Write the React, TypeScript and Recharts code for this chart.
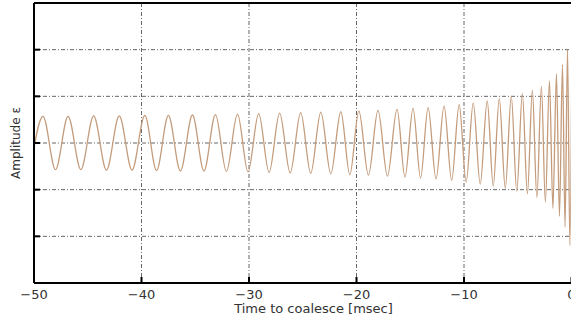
import { CartesianGrid, Line, LineChart, XAxis, YAxis } from "recharts";

// times (msec) of each crest / trough and its height
const peakTimes = [
  -49.16, -46.83, -44.45, -42.07, -39.69, -37.5, -35.26, -33.12, -31.07, -29.1, -27.15,
  -25.19, -23.32, -21.46, -19.78, -18.0, -16.23, -14.74, -13.34, -11.85, -10.45, -9.14,
  -7.84, -6.72, -5.6, -4.57, -3.64, -2.8, -2.05, -1.4, -0.84, -0.37, 0.05,
];
const peakAmps = [
  0.57, 0.57, 0.58, 0.58, 0.59, 0.59, 0.6, 0.61, 0.62, 0.63, 0.64, 0.65, 0.66, 0.67, 0.69,
  0.7, 0.72, 0.74, 0.76, 0.79, 0.82, 0.86, 0.9, 0.95, 1.0, 1.06, 1.13, 1.22, 1.33, 1.48,
  1.68, 2.0, 2.4,
];
const troughTimes = [
  -50.33, -48.0, -45.64, -43.26, -40.88, -38.6, -36.38, -34.19, -32.1, -30.09, -28.13,
  -26.17, -24.26, -22.39, -20.62, -18.89, -17.12, -15.49, -14.04, -12.6, -11.15, -9.8,
  -8.49, -7.28, -6.16, -5.09, -4.1, -3.22, -2.43, -1.73, -1.12, -0.6, -0.15,
];
const troughAmps = [
  0.57, 0.57, 0.57, 0.58, 0.58, 0.59, 0.6, 0.6, 0.61, 0.62, 0.63, 0.64, 0.65, 0.66, 0.68,
  0.69, 0.71, 0.73, 0.75, 0.77, 0.8, 0.84, 0.88, 0.92, 0.97, 1.03, 1.09, 1.17, 1.27, 1.4,
  1.57, 1.8, 2.2,
];

const xTicks = [-50, -40, -30, -20, -10, 0];
const yTicks = [-3, -2, -1, 0, 1, 2, 3];

const data = [
  ...peakTimes.map((t, i) => ({ t, amp: peakAmps[i] })),
  ...troughTimes.map((t, i) => ({ t, amp: -troughAmps[i] })),
].sort((a, b) => a.t - b.t);

const fmtMinus = (v: number) => (v < 0 ? `\u2212${Math.abs(v)}` : `${v}`);
const blank = () => "";

export default function App() {
  return (
    <div style={{ width: 571, height: 320, overflow: "hidden", position: "relative" }}>
      <style>{`body { margin: 0; }`}</style>
      <LineChart
        width={593}
        height={320}
        data={data}
        margin={{ top: 0, right: 0, bottom: 0, left: 0 }}
        style={{ fontFamily: "'DejaVu Sans', sans-serif" }}
      >
        <CartesianGrid
          stroke="#555"
          strokeWidth={0.9}
          strokeDasharray="4 2 1 2"
          verticalPoints={undefined}
        />
        <XAxis
          dataKey="t"
          type="number"
          domain={[-50, 2]}
          allowDataOverflow
          ticks={xTicks}
          tickFormatter={fmtMinus}
          height={37}
          tickSize={-6}
          tickMargin={13}
          axisLine={{ stroke: "#000", strokeWidth: 2 }}
          tickLine={{ stroke: "#000", strokeWidth: 2 }}
          tick={{ fill: "#333", fontSize: 13 }}
          label={{
            value: "Time to coalesce [msec]",
            position: "insideBottom",
            offset: 7,
            fill: "#333",
            fontSize: 13,
          }}
        />
        <XAxis
          xAxisId="top"
          orientation="top"
          type="number"
          domain={[-50, 2]}
          allowDataOverflow
          ticks={xTicks}
          tickFormatter={blank}
          height={3}
          tickSize={-6}
          axisLine={{ stroke: "#000", strokeWidth: 2 }}
          tickLine={{ stroke: "#000", strokeWidth: 2 }}
        />
        <YAxis
          type="number"
          domain={[-3, 3]}
          allowDataOverflow
          ticks={yTicks}
          tickFormatter={blank}
          width={34}
          tickSize={-6}
          axisLine={{ stroke: "#000", strokeWidth: 2 }}
          tickLine={{ stroke: "#000", strokeWidth: 2 }}
          label={{
            value: "Amplitude \u03b5",
            angle: -90,
            position: "center",
            dx: -1,
            fill: "#333",
            fontSize: 12,
          }}
        />
        <Line
          dataKey="amp"
          type="monotone"
          stroke="#c49c7c"
          strokeWidth={1.3}
          dot={false}
          isAnimationActive={false}
        />
      </LineChart>
    </div>
  );
}
